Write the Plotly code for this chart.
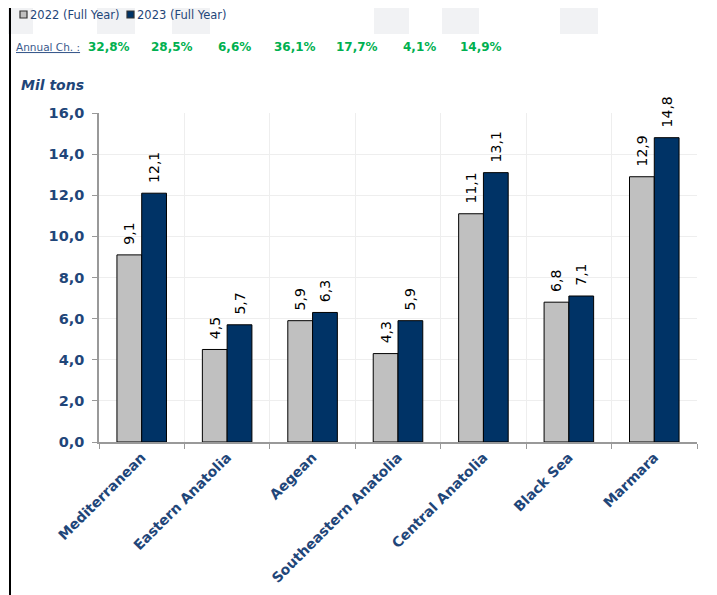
import plotly.graph_objects as go

regions = ["Mediterranean", "Eastern Anatolia", "Aegean", "Southeastern Anatolia",
           "Central Anatolia", "Black Sea", "Marmara"]
v2022 = [9.1, 4.5, 5.9, 4.3, 11.1, 6.8, 12.9]
v2023 = [12.1, 5.7, 6.3, 5.9, 13.1, 7.1, 14.8]
annual_ch = ["32,8%", "28,5%", "6,6%", "36,1%", "17,7%", "4,1%", "14,9%"]
series_names = ["2022 (Full Year)", "2023 (Full Year)"]
series_colors = ["#c0c0c0", "#003366"]

FONT = "DejaVu Sans"
BLUE = "#1f4679"

# page body has an 8px margin; plot area in page pixels: x 99..697, y 113..442
PL, PR, PT, PB = 99, 697, 113, 442
PW, PH = PR - PL, PB - PT


def px(x):
    return (x - PL) / PW


def py(y):
    return (PB - y) / PH


fig = go.Figure()
for vals, name, col in zip([v2022, v2023], series_names, series_colors):
    fig.add_trace(go.Bar(x=regions, y=vals, name=name,
                         marker=dict(color=col, line=dict(color="#000000", width=1)),
                         text=["\u00a0\u2009" + f"{v:.1f}".replace(".", ",") for v in vals],
                         textposition="outside", textangle=-90, constraintext="none",
                         textfont=dict(family=FONT, size=14, color="#000000"),
                         cliponaxis=False))

fig.update_layout(
    width=709, height=587,
    margin=dict(l=PL - 8, r=709 - (PR - 8), t=PT - 8, b=587 - (PB - 8), autoexpand=False),
    paper_bgcolor="white", plot_bgcolor="white",
    separators=",.",
    barmode="group", bargap=0.42, bargroupgap=0,
    font=dict(family=FONT, color=BLUE),
    showlegend=False,
)
fig.update_xaxes(
    tickangle=-45, tickson="boundaries", ticks="outside", ticklen=5, tickcolor="#999999",
    showgrid=True, gridcolor="#eeeeee", showline=True, linecolor="#999999", linewidth=1.5,
    tickfont=dict(family=FONT, size=14, color=BLUE, weight="bold"),
)
fig.update_yaxes(
    range=[0, 16], dtick=2, tickformat=".1f", ticks="outside", ticklen=5, tickcolor="#999999",
    showgrid=True, gridcolor="#eeeeee", showline=True, linecolor="#999999", linewidth=1.5,
    tickfont=dict(family=FONT, size=14.5, color=BLUE, weight="bold"), zeroline=False,
    ticklabelstandoff=5,
)

# faint watermark blocks at the top of the page
for x0, x1 in [(0, 33), (97, 135), (172, 210), (374, 409), (442, 479), (560, 598)]:
    fig.add_shape(type="rect", xref="paper", yref="paper", layer="below",
                  x0=px(x0), x1=px(x1), y0=py(34), y1=py(-10),
                  fillcolor="#f1f2f4", line=dict(width=0))

# left black border line
fig.add_shape(type="line", xref="paper", yref="paper", x0=px(10), x1=px(10), y0=py(600), y1=py(-10),
              line=dict(color="black", width=2))

# manual legend (square swatch + text)
leg_sq_x = [20, 127]
for sx, name, col in zip(leg_sq_x, series_names, series_colors):
    fig.add_shape(type="rect", xref="paper", yref="paper",
                  x0=px(sx), x1=px(sx + 7), y0=py(18), y1=py(11),
                  fillcolor=col, line=dict(color="#333333", width=1.2))
    fig.add_annotation(text=name, xref="paper", yref="paper",
                       x=px(sx + 8), y=py(15), xanchor="left", yanchor="middle", showarrow=False,
                       font=dict(family=FONT, size=11.5, color=BLUE))

fig.add_annotation(text="<u>Annual Ch. :</u>", xref="paper", yref="paper",
                   x=px(14), y=py(47), xanchor="left", yanchor="middle", showarrow=False,
                   font=dict(family=FONT, size=10.5, color="#3a5a8c"))
ch_x = [109, 172, 234, 295, 357, 419, 481]
for xpix, txt in zip(ch_x, annual_ch):
    fig.add_annotation(text=f"<b>{txt}</b>", xref="paper", yref="paper",
                       x=px(xpix), y=py(47), xanchor="center", yanchor="middle",
                       showarrow=False, font=dict(family=FONT, size=12, color="#00b050"))
fig.add_annotation(text="<b><i>Mil tons</i></b>", xref="paper", yref="paper",
                   x=px(19), y=py(85), xanchor="left", yanchor="middle", showarrow=False,
                   font=dict(family=FONT, size=14, color=BLUE))

fig.write_html("out.html")
